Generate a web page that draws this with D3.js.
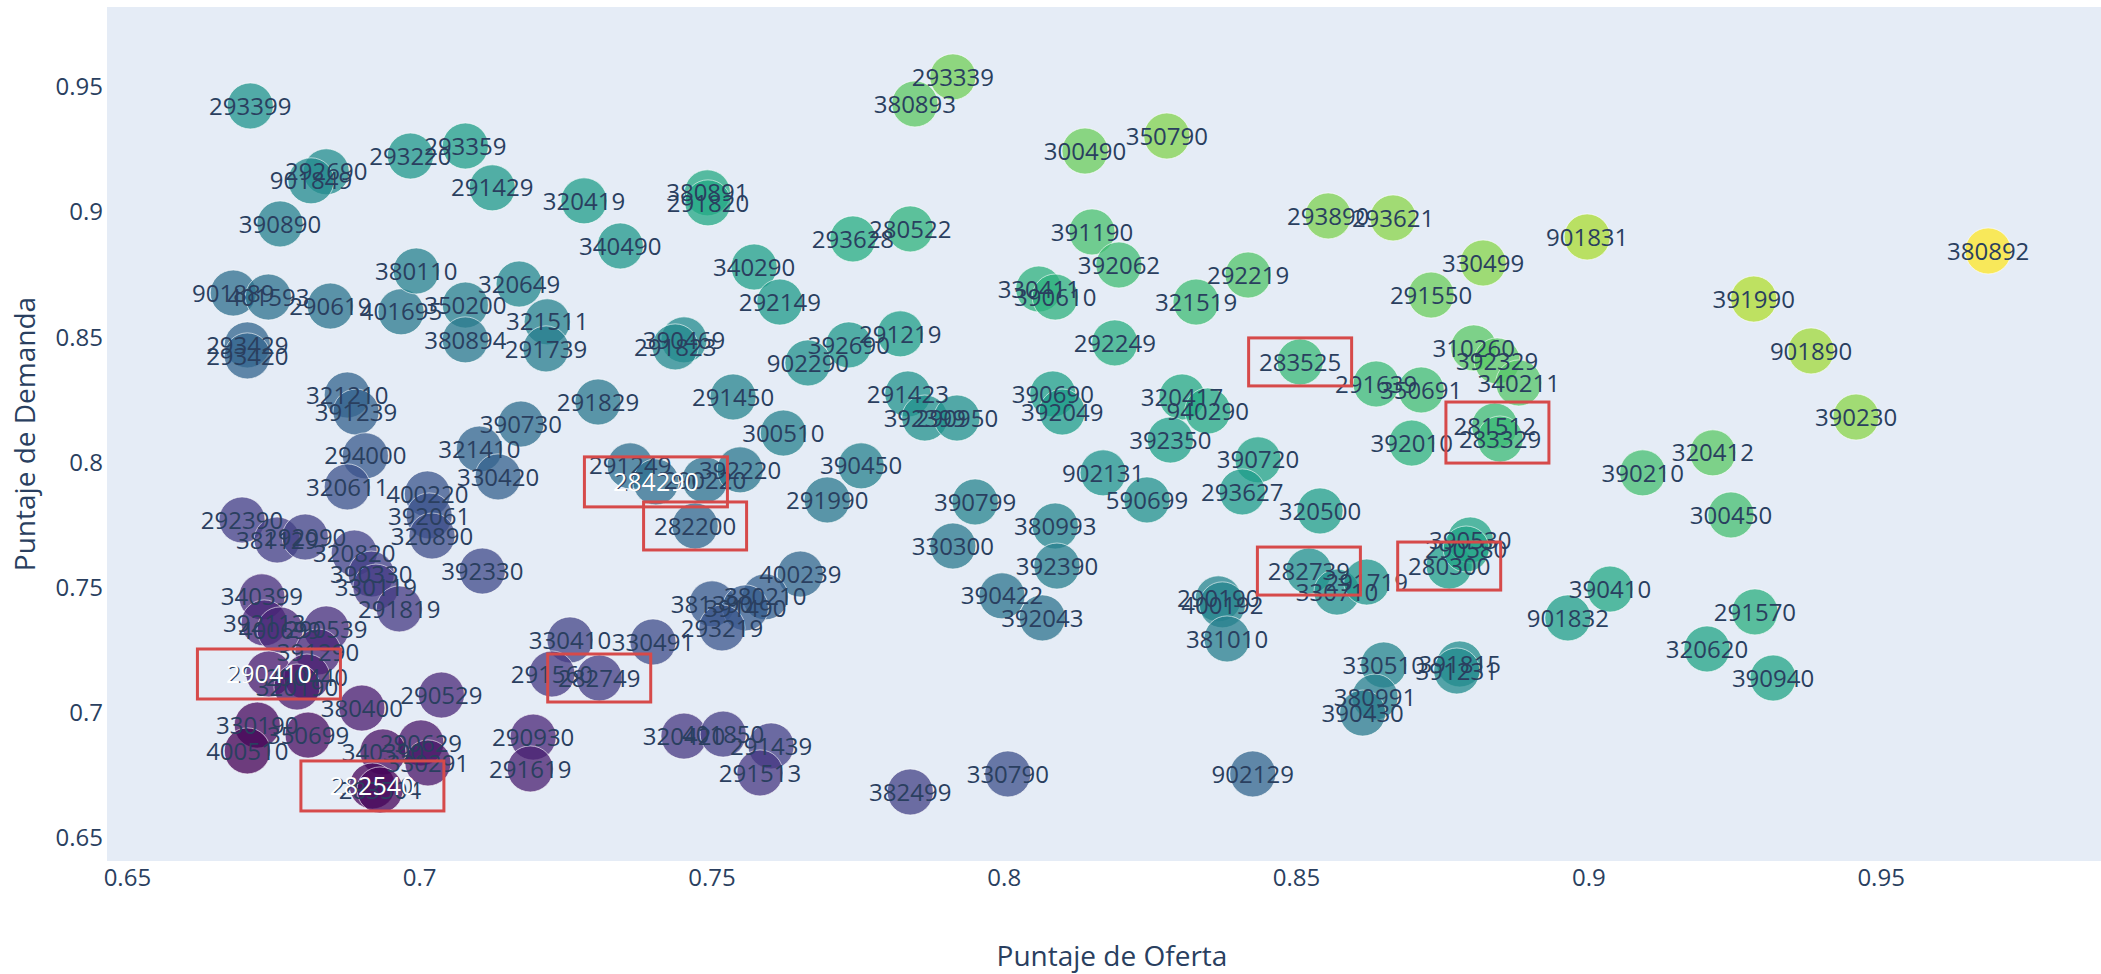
<!DOCTYPE html>
<html>
<head>
<meta charset="utf-8">
<script src="https://cdn.jsdelivr.net/npm/d3@7"></script>
<style>
  html, body { margin: 0; padding: 0; background: #fff; }
  svg text { font-family: "Open Sans", verdana, arial, sans-serif; }
</style>
</head>
<body>
<svg id="chart" width="2101" height="974"></svg>
<script>
// codigos de cada punto, con su puntaje de oferta (x) y de demanda (y)
const codigos = [
  "293399", "292690", "901849", "293220", "390890", "901889", "401593", "290619", "401695", "350200",
  "380110", "380894", "293429", "293420", "321210", "391239", "294000", "320611", "400220", "392061",
  "320890", "292390", "381129", "292090", "320820", "390330", "330119", "291819", "340399", "392113",
  "400699", "290539", "391290", "290410", "290440", "320190", "380400", "290529", "330190", "350699",
  "400510", "290629", "340390", "330291", "282540", "283504", "293359", "291429", "320419", "380891",
  "291820", "340490", "340290", "292149", "320649", "321511", "291739", "390469", "291823", "291829",
  "291450", "300510", "390730", "321410", "330420", "392330", "291249", "284290", "290220", "392220",
  "282200", "400239", "381390", "380210", "391490", "293219", "330410", "330491", "291560", "282749",
  "290930", "291619", "320420", "401850", "291439", "291513", "293339", "380893", "300490", "293628",
  "280522", "391190", "392062", "330411", "390610", "291219", "392690", "902290", "292249", "291423",
  "392399", "290950", "390690", "392049", "390450", "291990", "390799", "380993", "330300", "392390",
  "390422", "392043", "382499", "330790", "902131", "590699", "350790", "293890", "293621", "292219",
  "321519", "291550", "283525", "291639", "350691", "320417", "940290", "392350", "390720", "392010",
  "293627", "320500", "282739", "330710", "291719", "290190", "400192", "381010", "330510", "380991",
  "390430", "902129", "391815", "391231", "280300", "390530", "290580", "901831", "330499", "310260",
  "392329", "340211", "281512", "283329", "391990", "320412", "390210", "300450", "390410", "901832",
  "320620", "291570", "390940", "380892", "901890", "390230"
];

const oferta = [
  0.6711, 0.6841, 0.6815, 0.6985, 0.6762, 0.6682, 0.6742, 0.6848, 0.6969, 0.7079,
  0.6995, 0.7079, 0.6706, 0.6706, 0.6877, 0.6892, 0.6908, 0.6877, 0.7014, 0.7017,
  0.7022, 0.6697, 0.6757, 0.6805, 0.6889, 0.6918, 0.6926, 0.6966, 0.6731, 0.6735,
  0.6762, 0.6841, 0.6827, 0.6743, 0.6808, 0.6791, 0.6902, 0.7038, 0.6723, 0.6810,
  0.6706, 0.7003, 0.6938, 0.7015, 0.6920, 0.6933, 0.7079, 0.7125, 0.7282, 0.7493,
  0.7494, 0.7344, 0.7573, 0.7617, 0.7171, 0.7219, 0.7217, 0.7453, 0.7438, 0.7306,
  0.7537, 0.7623, 0.7174, 0.7103, 0.7135, 0.7108, 0.7361, 0.7405, 0.7489, 0.7549,
  0.7472, 0.7652, 0.7501, 0.7592, 0.7558, 0.7518, 0.7258, 0.7400, 0.7227, 0.7308,
  0.7195, 0.7190, 0.7453, 0.7520, 0.7602, 0.7583, 0.7913, 0.7848, 0.8139, 0.7742,
  0.7840, 0.8151, 0.8197, 0.8060, 0.8088, 0.7823, 0.7735, 0.7665, 0.8190, 0.7836,
  0.7865, 0.7920, 0.8084, 0.8100, 0.7756, 0.7698, 0.7951, 0.8088, 0.7913, 0.8091,
  0.7997, 0.8066, 0.7840, 0.8007, 0.8170, 0.8245, 0.8279, 0.8555, 0.8666, 0.8418,
  0.8329, 0.8731, 0.8507, 0.8637, 0.8714, 0.8305, 0.8349, 0.8285, 0.8435, 0.8698,
  0.8408, 0.8541, 0.8522, 0.8570, 0.8621, 0.8367, 0.8374, 0.8382, 0.8650, 0.8635,
  0.8614, 0.8426, 0.8780, 0.8775, 0.8762, 0.8798, 0.8791, 0.8998, 0.8820, 0.8804,
  0.8844, 0.8881, 0.8840, 0.8849, 0.9283, 0.9213, 0.9093, 0.9244, 0.9037, 0.8965,
  0.9203, 0.9285, 0.9316, 0.9684, 0.9381, 0.9458
];

const demanda = [
  0.9420, 0.9157, 0.9121, 0.9220, 0.8949, 0.8673, 0.8657, 0.8621, 0.8598, 0.8625,
  0.8761, 0.8486, 0.8466, 0.8422, 0.8266, 0.8198, 0.8023, 0.7899, 0.7871, 0.7783,
  0.7703, 0.7767, 0.7687, 0.7699, 0.7635, 0.7551, 0.7499, 0.7412, 0.7460, 0.7356,
  0.7328, 0.7332, 0.7240, 0.7152, 0.7140, 0.7100, 0.7016, 0.7068, 0.6948, 0.6908,
  0.6845, 0.6877, 0.6841, 0.6797, 0.6705, 0.6689, 0.9260, 0.9093, 0.9041, 0.9073,
  0.9033, 0.8861, 0.8777, 0.8637, 0.8709, 0.8558, 0.8450, 0.8486, 0.8458, 0.8238,
  0.8258, 0.8114, 0.8150, 0.8050, 0.7939, 0.7563, 0.7983, 0.7919, 0.7927, 0.7967,
  0.7743, 0.7551, 0.7432, 0.7460, 0.7416, 0.7336, 0.7288, 0.7280, 0.7152, 0.7136,
  0.6900, 0.6773, 0.6904, 0.6912, 0.6865, 0.6757, 0.9536, 0.9428, 0.9240, 0.8889,
  0.8929, 0.8917, 0.8785, 0.8689, 0.8657, 0.8510, 0.8466, 0.8394, 0.8474, 0.8270,
  0.8174, 0.8174, 0.8270, 0.8198, 0.7983, 0.7847, 0.7839, 0.7743, 0.7663, 0.7583,
  0.7464, 0.7376, 0.6681, 0.6753, 0.7955, 0.7847, 0.9300, 0.8981, 0.8973, 0.8745,
  0.8637, 0.8665, 0.8398, 0.8310, 0.8286, 0.8258, 0.8202, 0.8086, 0.8007, 0.8074,
  0.7879, 0.7803, 0.7563, 0.7479, 0.7519, 0.7452, 0.7428, 0.7292, 0.7188, 0.7060,
  0.6996, 0.6753, 0.7192, 0.7164, 0.7583, 0.7687, 0.7651, 0.8897, 0.8793, 0.8454,
  0.8402, 0.8314, 0.8142, 0.8090, 0.8649, 0.8035, 0.7955, 0.7787, 0.7491, 0.7376,
  0.7252, 0.7400, 0.7136, 0.8841, 0.8442, 0.8178
];

const ticksX = [0.65, 0.7, 0.75, 0.8, 0.85, 0.9, 0.95];
const ticksY = [0.65, 0.7, 0.75, 0.8, 0.85, 0.9, 0.95];

// recuadros rojos marcados a mano sobre la figura
const cajas = [["283525"], ["282200"], ["282749"], ["282739"], ["280300"], ["281512", "283329"]];
const cajasAnchas = [["284290"], ["290410"], ["282540"]];
const etiquetasBlancas = ["284290", "290410", "282540"];

const W = 2101, H = 974;
const margen = { left: 107, right: 0, top: 7, bottom: 113 };
const svg = d3.select("#chart");

const datos = codigos.map((c, i) => ({ cod: c, x: oferta[i], y: demanda[i] }));
const porCodigo = new Map(datos.map(d => [d.cod, d]));

const x = d3.scaleLinear()
  .domain([0.6466, 0.9877])
  .range([margen.left, W - margen.right]);
const y = d3.scaleLinear()
  .domain([0.64054, 0.9815])
  .range([H - margen.bottom, margen.top]);

// el color sigue el puntaje combinado (oferta + demanda)
const color = d3.scaleSequential(d3.interpolateViridis)
  .domain(d3.extent(datos, d => d.x + d.y));

svg.append("rect")
  .attr("x", margen.left)
  .attr("y", margen.top)
  .attr("width", W - margen.left - margen.right)
  .attr("height", H - margen.top - margen.bottom)
  .attr("fill", "#E5ECF6");

// ejes
const ejeX = svg.append("g")
  .attr("transform", `translate(0,${H - margen.bottom})`)
  .call(d3.axisBottom(x).tickValues(ticksX).tickSize(0).tickPadding(8).tickFormat(d3.format(".2~f")));
ejeX.select(".domain").remove();
ejeX.selectAll("text").attr("font-size", 24).attr("fill", "#2a3f5f").attr("font-family", null);

const ejeY = svg.append("g")
  .attr("transform", `translate(${margen.left},0)`)
  .call(d3.axisLeft(y).tickValues(ticksY).tickSize(0).tickPadding(4).tickFormat(d3.format(".2~f")));
ejeY.select(".domain").remove();
ejeY.selectAll("text").attr("font-size", 24).attr("fill", "#2a3f5f").attr("dy", "0.36em").attr("font-family", null);

svg.append("text")
  .attr("x", (margen.left + W - margen.right) / 2 + 8)
  .attr("y", 966)
  .attr("text-anchor", "middle")
  .attr("font-size", 28)
  .attr("fill", "#2a3f5f")
  .text("Puntaje de Oferta");

svg.append("text")
  .attr("transform", `translate(35,${(margen.top + H - margen.bottom) / 2}) rotate(-90)`)
  .attr("text-anchor", "middle")
  .attr("font-size", 28)
  .attr("fill", "#2a3f5f")
  .text("Puntaje de Demanda");

// puntos
const zona = svg.append("g");
zona.append("g").selectAll("circle")
  .data(datos)
  .join("circle")
  .attr("cx", d => x(d.x))
  .attr("cy", d => y(d.y))
  .attr("r", 23)
  .attr("fill", d => color(d.x + d.y))
  .attr("fill-opacity", 0.75)
  .attr("stroke", "#ffffff")
  .attr("stroke-opacity", 0.6)
  .attr("stroke-width", 1);

zona.append("g").selectAll("text")
  .data(datos)
  .join("text")
  .attr("x", d => x(d.x))
  .attr("y", d => y(d.y))
  .attr("dy", "0.36em")
  .attr("text-anchor", "middle")
  .attr("font-size", 24)
  .attr("fill", "#2a3f5f")
  .text(d => d.cod);

// recuadros rojos
function caja(grupo, ancho, alto) {
  const pts = grupo.map(c => porCodigo.get(c));
  const cx = d3.mean(pts, p => x(p.x));
  const ys = pts.map(p => y(p.y));
  const h = alto + (d3.max(ys) - d3.min(ys));
  const cy = (d3.max(ys) + d3.min(ys)) / 2;
  svg.append("rect")
    .attr("x", cx - ancho / 2)
    .attr("y", cy - h / 2)
    .attr("width", ancho)
    .attr("height", h)
    .attr("fill", "none")
    .attr("stroke", "#d64a4a")
    .attr("stroke-width", 3);
}
cajas.forEach(g => caja(g, 103, 48));
cajasAnchas.forEach(g => caja(g, 143, 50));

svg.append("g").selectAll("text")
  .data(etiquetasBlancas.map(c => porCodigo.get(c)))
  .join("text")
  .attr("x", d => x(d.x))
  .attr("y", d => y(d.y))
  .attr("dy", "0.36em")
  .attr("text-anchor", "middle")
  .attr("font-size", 25)
  .attr("fill", "#ffffff")
  .text(d => d.cod);
</script>
</body>
</html>
